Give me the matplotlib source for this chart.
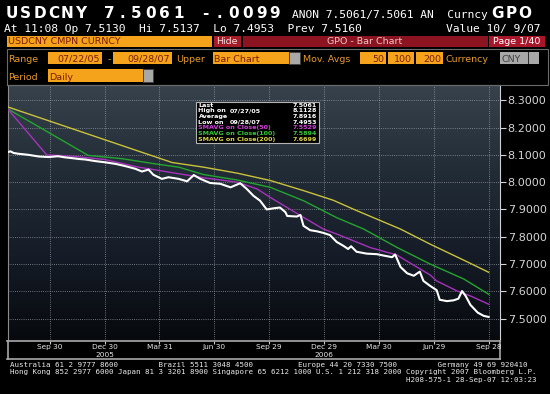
import matplotlib
matplotlib.use('Agg')
import matplotlib.pyplot as plt
from matplotlib.patches import Rectangle
from matplotlib.colors import LinearSegmentedColormap
import numpy as np

# daily close
price_dates = [
    "2005-07-22", "2005-07-27", "2005-08-01", "2005-08-09", "2005-08-18", "2005-08-26",
    "2005-09-12", "2005-09-28", "2005-10-14", "2005-10-25", "2005-11-06", "2005-11-17",
    "2005-11-28", "2005-12-15", "2005-12-30", "2006-01-17", "2006-02-02", "2006-02-19",
    "2006-03-02", "2006-03-13", "2006-03-21", "2006-04-04", "2006-04-15", "2006-05-02",
    "2006-05-16", "2006-05-27", "2006-06-07", "2006-06-23", "2006-07-10", "2006-07-27",
    "2006-08-12", "2006-08-23", "2006-09-03", "2006-09-14", "2006-09-25", "2006-10-06",
    "2006-10-17", "2006-10-26", "2006-10-29", "2006-11-14", "2006-11-20", "2006-11-25",
    "2006-12-06", "2006-12-17", "2006-12-28", "2007-01-08", "2007-01-19", "2007-01-30",
    "2007-02-07", "2007-02-12", "2007-02-21", "2007-03-10", "2007-03-27", "2007-04-07",
    "2007-04-21", "2007-04-26", "2007-05-05", "2007-05-16", "2007-05-27", "2007-06-06",
    "2007-06-12", "2007-06-23", "2007-07-04", "2007-07-09", "2007-07-21", "2007-08-01",
    "2007-08-09", "2007-08-15", "2007-08-21", "2007-08-29", "2007-09-10", "2007-09-20",
    "2007-09-28",
]
price_vals = [
    8.110, 8.1128, 8.107, 8.104, 8.102, 8.100,
    8.094, 8.092, 8.095, 8.091, 8.088, 8.085,
    8.083, 8.077, 8.073, 8.067, 8.059, 8.049,
    8.039, 8.046, 8.027, 8.012, 8.018, 8.012,
    8.003, 8.026, 8.012, 7.997, 7.994, 7.981,
    7.996, 7.975, 7.950, 7.932, 7.900, 7.904,
    7.907, 7.890, 7.876, 7.874, 7.880, 7.840,
    7.824, 7.820, 7.814, 7.806, 7.781, 7.767,
    7.755, 7.765, 7.745, 7.738, 7.736, 7.731,
    7.725, 7.735, 7.689, 7.666, 7.657, 7.672,
    7.638, 7.620, 7.604, 7.569, 7.564, 7.567,
    7.573, 7.601, 7.583, 7.550, 7.522, 7.510,
    7.5061,
]

ma50_dates = ["2005-07-22", "2005-09-25", "2005-11-06", "2005-12-30", "2006-02-24", "2006-04-18",
              "2006-06-12", "2006-08-07", "2006-09-09", "2006-10-01", "2006-11-25", "2006-12-28",
              "2007-01-19", "2007-03-16", "2007-04-29", "2007-05-10", "2007-06-23", "2007-07-04",
              "2007-08-07", "2007-08-29", "2007-09-28"]
ma50_vals = [8.269, 8.100, 8.095, 8.083, 8.055, 8.036,
             8.016, 8.000, 7.975, 7.944, 7.871, 7.828,
             7.810, 7.760, 7.733, 7.718, 7.660, 7.638,
             7.601, 7.583, 7.5529]

ma100_dates = ["2005-07-22", "2005-12-03", "2006-01-28", "2006-03-24", "2006-05-02", "2006-06-12",
               "2006-08-07", "2006-10-01", "2006-11-25", "2007-01-19", "2007-03-05", "2007-04-29",
               "2007-06-23", "2007-08-18", "2007-09-28"]
ma100_vals = [8.269, 8.098, 8.086, 8.067, 8.055, 8.028,
              8.008, 7.981, 7.932, 7.870, 7.828, 7.761,
              7.700, 7.645, 7.5894]

ma200_dates = ["2005-07-22", "2006-04-21", "2006-06-12", "2006-08-07", "2006-10-01", "2006-11-25",
               "2007-01-13", "2007-02-21", "2007-05-05", "2007-06-23", "2007-08-18", "2007-09-28"]
ma200_vals = [8.276, 8.072, 8.055, 8.033, 8.006, 7.969,
              7.934, 7.896, 7.828, 7.773, 7.714, 7.6699]

y_ticks = [7.5, 7.6, 7.7, 7.8, 7.9, 8.0, 8.1, 8.2, 8.3]
tick_dates = ["2005-09-30", "2005-12-30", "2006-03-31", "2006-06-30", "2006-09-29",
              "2006-12-29", "2007-03-30", "2007-06-29", "2007-09-28"]
tick_labels = ["Sep 30", "Dec 30", "Mar 31", "Jun 30", "Sep 29",
               "Dec 29", "Mar 30", "Jun 29", "Sep 28"]
year_dates = ["2005-12-30", "2006-12-29"]
year_labels = ["2005", "2006"]

legend_labels = ["Last", "High on", "Average", "Low on",
                 "SMAVG on Close(50)", "SMAVG on Close(100)", "SMAVG on Close(200)"]
legend_dates = ["", "07/27/05", "", "09/28/07", "", "", ""]
legend_values = ["7.5061", "8.1128", "7.8916", "7.4953", "7.5529", "7.5894", "7.6699"]

W, H = 550, 394
ORANGE = '#f5a31a'
ORANGE_TXT = '#e89a2c'
BOX_TXT = '#7b1d06'
C50, C100, C200 = '#a632bc', '#23a52f', '#c9c23b'


def fx(x):
    return x / W


def fy(y):
    return 1 - y / H


def box(fig, x0, y0, x1, y1, color, ec='none', lw=0):
    fig.patches.append(Rectangle((fx(x0), fy(y1)), (x1 - x0) / W, (y1 - y0) / H,
                                 transform=fig.transFigure, facecolor=color,
                                 edgecolor=ec, linewidth=lw))


def txt(fig, x, y, s, **kw):
    kw.setdefault('va', 'baseline')
    kw.setdefault('color', 'white')
    fig.text(fx(x), fy(y), s, **kw)


fig = plt.figure(figsize=(5.5, 3.94), dpi=100, facecolor='black')

# header
title = "USDCNY 7.5061 -.0099"
for i, ch in enumerate(title):
    txt(fig, 5 + 13.85 * i + 6.9, 18.3, ch, ha='center', fontsize=11, weight='bold')
for i, ch in enumerate("GPO"):
    txt(fig, 490 + 14 * i + 7, 18.3, ch, ha='center', fontsize=11, weight='bold')
mono = dict(family='DejaVu Sans Mono', fontsize=8.1)
txt(fig, 292, 18.3, "ANON 7.5061/7.5061 AN  Curncy", **mono)
txt(fig, 4, 31.7, "At 11:08 Op 7.5130  Hi 7.5137  Lo 7.4953  Prev 7.5160", **mono)
txt(fig, 540, 31.7, "Value 10/ 9/07", ha='right', **mono)

# menu row
small = dict(fontsize=6.8)
box(fig, 6.5, 35.5, 212, 47, ORANGE)
txt(fig, 8, 44.5, "USDCNY CMPN CURNCY", color=BOX_TXT, **small)
box(fig, 213.5, 35.5, 241, 47, '#a51c28')
txt(fig, 227, 44.5, "Hide", ha='center', color='#f4dede', **small)
box(fig, 243, 35.5, 488, 47, '#8c1420')
txt(fig, 365, 44.5, "GPO - Bar Chart", ha='center', color='#ecc8c8', **small)
box(fig, 489, 35.5, 545, 47, '#a8162a')
txt(fig, 517, 44.5, "Page 1/40", ha='center', color='white', **small)

# settings rows
box(fig, 6.5, 48.5, 548, 85, 'none', ec='#6a6a6a', lw=0.8)
txt(fig, 8.5, 62, "Range", color=ORANGE_TXT, **small)
box(fig, 48.3, 51.7, 101.7, 64.3, ORANGE)
txt(fig, 99.5, 62, "07/22/05", ha='right', color=BOX_TXT, **small)
txt(fig, 108, 62, "-", color=ORANGE_TXT, **small)
box(fig, 113.3, 51.7, 171.7, 64.3, ORANGE)
txt(fig, 169.5, 62, "09/28/07", ha='right', color=BOX_TXT, **small)
txt(fig, 176, 62, "Upper", color=ORANGE_TXT, **small)
box(fig, 212.8, 51.7, 289, 64.3, ORANGE)
box(fig, 289, 51.7, 299.6, 64.3, '#a8a8a8', ec='#404040', lw=0.6)
txt(fig, 214, 62, "Bar Chart", color=BOX_TXT, **small)
txt(fig, 303, 62, "Mov. Avgs", color=ORANGE_TXT, **small)
for (x0, x1), s in zip([(360, 385.8), (387.6, 414.2), (416, 443.3)], ["50", "100", "200"]):
    box(fig, x0, 51.7, x1, 64.3, ORANGE)
    txt(fig, x1 - 2, 62, s, ha='right', color=BOX_TXT, **small)
txt(fig, 446, 62, "Currency", color=ORANGE_TXT, **small)
box(fig, 500, 51.7, 539, 64.3, '#a8a8a8')
box(fig, 527.5, 52.5, 529, 63.5, '#303030')
txt(fig, 502, 62, "CNY", color='#404040', **small)
txt(fig, 8.5, 79.5, "Period", color=ORANGE_TXT, **small)
box(fig, 48.3, 69.3, 142.7, 81.7, ORANGE)
box(fig, 142.7, 69.3, 153.3, 81.7, '#a8a8a8', ec='#404040', lw=0.6)
txt(fig, 49.5, 79.5, "Daily", color=BOX_TXT, **small)

# main chart
ax = fig.add_axes([fx(7.5), fy(340.7), (500 - 7.5) / W, (340.7 - 85) / H])
grad = LinearSegmentedColormap.from_list('bg', ['#07090d', '#151c27', '#222c37', '#37424c'])
ax.imshow(np.linspace(1, 0, 256).reshape(-1, 1), cmap=grad, aspect='auto',
          extent=[0, 1, 0, 1], transform=ax.transAxes, zorder=0)

pd_ = np.array(price_dates, dtype='datetime64[D]')
ax.plot(np.array(ma200_dates, dtype='datetime64[D]'), ma200_vals, color=C200, lw=1.0, zorder=3)
ax.plot(np.array(ma100_dates, dtype='datetime64[D]'), ma100_vals, color=C100, lw=1.0, zorder=3)
ax.plot(np.array(ma50_dates, dtype='datetime64[D]'), ma50_vals, color=C50, lw=1.0, zorder=3)
ax.plot(pd_, price_vals, color='white', lw=1.5, zorder=4)

x_lo, x_hi = np.datetime64('2005-07-22'), np.datetime64('2007-10-17')
ax.set_xlim(x_lo, x_hi)
ax.set_ylim(7.419, 8.356)
ax.set_xticks(np.array(tick_dates, dtype='datetime64[D]'))
ax.tick_params(axis='x', length=0, labelbottom=False)
ax.yaxis.tick_right()
ax.set_yticks(y_ticks)
ax.set_yticklabels([f"{v:.4f}" for v in y_ticks])
ax.tick_params(axis='y', colors='#d4d4d4', labelsize=8, length=4, width=0.8, pad=1.5)
ax.grid(True, color='#a4aab2', linestyle=(0, (1, 1.6)), linewidth=0.6, alpha=0.85, zorder=1)
for side in ['left', 'top', 'bottom']:
    ax.spines[side].set_color('#8c8c8c')
ax.spines['right'].set_color('#d0d0d0')

# date axis strip
ax2 = fig.add_axes([fx(7.5), fy(359.3), (500 - 7.5) / W, (359.3 - 340.7) / H])
ax2.set_facecolor('black')
ax2.set_xlim(x_lo, x_hi)
ax2.set_ylim(0, 1)
ax2.set_yticks([])
ax2.set_xticks(np.array(tick_dates, dtype='datetime64[D]'))
ax2.xaxis.set_ticks_position('top')
ax2.tick_params(axis='x', direction='in', length=2.5, color='#c8c8c8', labeltop=False, labelbottom=False)
for s in ax2.spines.values():
    s.set_color('#a8a8a8')
    s.set_linewidth(1.2)
tr = ax2.get_xaxis_transform()
for d, lab in zip(tick_dates, tick_labels):
    ax2.text(np.datetime64(d), 0.55, lab, transform=tr, ha='center', va='baseline',
             color='#e6e6e6', fontsize=5.3)
for d, lab in zip(year_dates, year_labels):
    ax2.text(np.datetime64(d), 0.1, lab, transform=tr, ha='center', va='baseline',
             color='#e6e6e6', fontsize=5.3)

# legend box
box(fig, 196, 101.7, 319.3, 143.3, 'black', ec='#b4b4b4', lw=0.8)
leg_colors = ['white', 'white', 'white', 'white', '#d040d8', '#38c838', '#dcd448']
for i, (lab, dt, val, c) in enumerate(zip(legend_labels, legend_dates, legend_values, leg_colors)):
    yy = 105.3 + 5.65 * i
    lk = dict(va='center', fontsize=4.6, weight='bold', color=c)
    txt(fig, 198.5, yy, lab, **lk)
    if dt:
        txt(fig, 230, yy, dt, **lk)
    txt(fig, 316.7, yy, val, ha='right', **lk)

# footer
foot = dict(family='DejaVu Sans Mono', fontsize=5.4, color='#e8e8e8')
line1 = ("Australia 61 2 9777 8600".ljust(33) + "Brazil 5511 3048 4500".ljust(31)
         + "Europe 44 20 7330 7500".ljust(31) + "Germany 49 69 920410")
txt(fig, 10, 366.7, line1, **foot)
txt(fig, 10, 374.3, "Hong Kong 852 2977 6000 Japan 81 3 3201 8900 Singapore 65 6212 1000 "
    "U.S. 1 212 318 2000 Copyright 2007 Bloomberg L.P.", **foot)
txt(fig, 537, 382, "H208-575-1 28-Sep-07 12:03:23", ha='right', **foot)

fig.savefig('out.png', dpi=100, facecolor='black')
